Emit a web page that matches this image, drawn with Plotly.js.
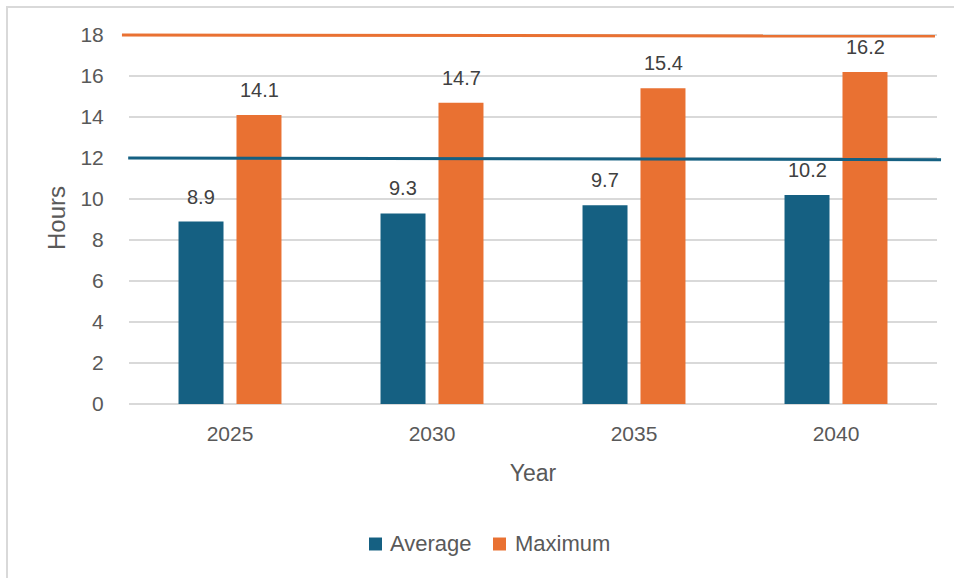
<!DOCTYPE html>
<html>
<head>
<meta charset="utf-8">
<script src="https://cdn.plot.ly/plotly-3.0.1.min.js"></script>
<style>
  html, body { margin: 0; padding: 0; background: #ffffff; overflow: hidden; }
  #chart { width: 954px; height: 578px; }
  #frame { position: absolute; left: 6px; top: 6px; width: 980px; height: 600px;
           border: 2px solid #d9d9d9; pointer-events: none; }
</style>
</head>
<body>
<div id="chart"></div>
<div id="frame"></div>
<script>
const years = ['2025', '2030', '2035', '2040'];
const seriesNames = ['Average', 'Maximum'];
const seriesColors = ['#156082', '#E97132'];
const averageHours = [8.9, 9.3, 9.7, 10.2];
const maximumHours = [14.1, 14.7, 15.4, 16.2];
const refLevels = [12, 18];
const refLevelsEnd = [11.92, 17.95];
const yTicks = [0, 2, 4, 6, 8, 10, 12, 14, 16, 18];

const FONT = 'Liberation Sans, Arial, sans-serif';
const seriesValues = [averageHours, maximumHours];

const traces = seriesValues.map((vals, si) => ({
  type: 'bar', name: seriesNames[si], x: years, y: vals,
  marker: { color: seriesColors[si] }, showlegend: false, hoverinfo: 'x+y'
}));

const annotations = [];
seriesValues.forEach((vals, si) => {
  vals.forEach((v, i) => {
    annotations.push({
      x: i, y: v, xref: 'x', yref: 'y',
      text: v.toFixed(1), showarrow: false,
      xanchor: 'center', yanchor: 'bottom', yshift: 12,
      xshift: si === 0 ? -29 : 29,
      font: { family: FONT, size: 20, color: '#404040' }
    });
  });
});

// reference lines
const shapes = [
  { type: 'line', xref: 'paper', yref: 'y', x0: -0.001, x1: 1.005,
    y0: refLevels[0], y1: refLevelsEnd[0], line: { color: seriesColors[0], width: 3 } },
  { type: 'line', xref: 'paper', yref: 'y', x0: -0.0087, x1: 0.9975,
    y0: refLevels[1], y1: refLevelsEnd[1], line: { color: seriesColors[1], width: 3 } }
];

// manual legend (square + label)
const legendSq = [[0.2970, 0.3131], [0.4505, 0.4666]];
const legendTx = [0.3205, 0.4752];
seriesNames.forEach((n, si) => {
  shapes.push({ type: 'rect', xref: 'paper', yref: 'paper',
    x0: legendSq[si][0], x1: legendSq[si][1], y0: -0.3938, y1: -0.3589,
    fillcolor: seriesColors[si], line: { width: 0 } });
  annotations.push({ xref: 'paper', yref: 'paper', x: legendTx[si], y: -0.3763,
    xanchor: 'left', yanchor: 'middle', showarrow: false, text: n,
    font: { family: FONT, size: 22, color: '#595959' } });
});

const layout = {
  width: 954, height: 578,
  margin: { l: 129, r: 17, t: 32, b: 174 },
  paper_bgcolor: '#ffffff', plot_bgcolor: '#ffffff',
  barmode: 'group', bargap: 0.426, bargroupgap: 0.224,
  showlegend: false,
  xaxis: {
    type: 'category', range: [-0.5, 3.5], autorange: false,
    showgrid: false, zeroline: false, showline: false,
    ticks: 'outside', ticklen: 11, tickcolor: 'rgba(0,0,0,0)',
    tickfont: { family: FONT, size: 21, color: '#595959' },
    title: { text: 'Year', font: { family: FONT, size: 23, color: '#595959' }, standoff: 20 }
  },
  yaxis: {
    range: [0, 18.15], autorange: false, tickvals: yTicks, ticktext: yTicks.map(String),
    showgrid: true, gridcolor: '#d9d9d9', gridwidth: 1.3,
    zeroline: true, zerolinecolor: '#d9d9d9', zerolinewidth: 1.5,
    showline: false, ticks: 'outside', ticklen: 20, tickcolor: 'rgba(0,0,0,0)',
    tickfont: { family: FONT, size: 21, color: '#595959' },
    title: { text: 'Hours', font: { family: FONT, size: 24, color: '#595959' }, standoff: 8 }
  },
  annotations: annotations,
  shapes: shapes
};

Plotly.newPlot('chart', traces, layout, { displayModeBar: false, staticPlot: true });
</script>
</body>
</html>
